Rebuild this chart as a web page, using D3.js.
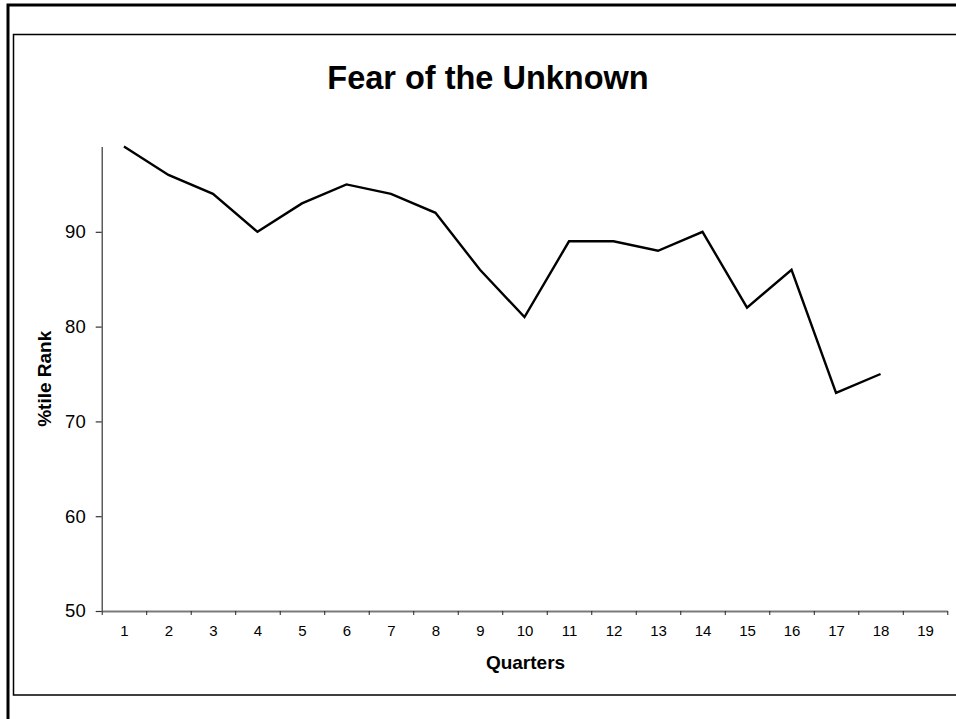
<!DOCTYPE html>
<html>
<head>
<meta charset="utf-8">
<script src="https://cdn.jsdelivr.net/npm/d3@7"></script>
<style>
  html, body { margin: 0; padding: 0; background: #fff; }
  svg { display: block; }
  text { font-family: Arial, "Liberation Sans", sans-serif; fill: #000; }
</style>
</head>
<body>
<svg id="chart" width="956" height="719"></svg>
<script>
// Percentile rank per quarter
const quarters = [1, 2, 3, 4, 5, 6, 7, 8, 9, 10, 11, 12, 13, 14, 15, 16, 17, 18];
const rank = [99, 96, 94, 90, 93, 95, 94, 92, 86, 81, 89, 89, 88, 90, 82, 86, 73, 75];

// Axis categories and ticks
const xCategories = d3.range(1, 20);
const yTicks = [50, 60, 70, 80, 90];

const titleText = "Fear of the Unknown";
const xTitle = "Quarters";
const yTitle = "%tile Rank";

const svg = d3.select("#chart");

// Outer page border (left and top edges)
svg.append("path")
  .attr("d", "M8,719 V5 H956")
  .attr("fill", "none")
  .attr("stroke", "#000")
  .attr("stroke-width", 3);

// Chart area frame
svg.append("path")
  .attr("d", "M956,34.5 H13.5 V695 H956")
  .attr("fill", "none")
  .attr("stroke", "#000")
  .attr("stroke-width", 1.5);

const plotLeft = 101.7, plotRight = 947.3, plotTop = 146.5, plotBottom = 611;

const x = d3.scaleLinear().domain([0.5, 19.5]).range([plotLeft, plotRight]);
const y = d3.scaleLinear().domain([50, 99]).range([plotBottom, plotTop]);

// Y axis
const yAxis = svg.append("g")
  .attr("transform", `translate(${plotLeft},0)`)
  .call(d3.axisLeft(y).tickValues(yTicks).tickSize(6).tickPadding(10).tickSizeOuter(0));
yAxis.select(".domain").attr("stroke", "#333").attr("stroke-width", 1.2);
yAxis.selectAll(".tick line").attr("stroke", "#333").attr("stroke-width", 1.2);
yAxis.selectAll(".tick text")
  .style("font-size", "18.5px")
  .attr("fill", "#000");

// X axis: tick marks between categories
const xTickMarks = svg.append("g")
  .attr("transform", `translate(0,${plotBottom})`)
  .call(d3.axisBottom(x)
    .tickValues(d3.range(0.5, 20, 1))
    .tickSize(4)
    .tickSizeOuter(0)
    .tickFormat(""));
xTickMarks.select(".domain").attr("stroke", "#7a7a7a").attr("stroke-width", 2);
xTickMarks.selectAll(".tick line").attr("stroke", "#222").attr("stroke-width", 1);

// X axis: category labels centred in each slot
const xLabels = svg.append("g")
  .attr("transform", `translate(0,${plotBottom})`)
  .call(d3.axisBottom(x)
    .tickValues(xCategories)
    .tickSize(0)
    .tickPadding(14)
    .tickFormat(d3.format("d")));
xLabels.select(".domain").remove();
xLabels.selectAll(".tick text")
  .style("font-size", "15px")
  .attr("fill", "#000");

// Data line
const line = d3.line()
  .x((d, i) => x(quarters[i]))
  .y(d => y(d));

svg.append("path")
  .datum(rank)
  .attr("d", line)
  .attr("fill", "none")
  .attr("stroke", "#000")
  .attr("stroke-width", 2.4)
  .attr("stroke-linejoin", "miter");

// Titles
svg.append("text")
  .attr("x", 488)
  .attr("y", 89)
  .attr("text-anchor", "middle")
  .style("font-size", "32.5px")
  .style("font-weight", "bold")
  .text(titleText);

svg.append("text")
  .attr("x", (plotLeft + plotRight) / 2 + 1)
  .attr("y", 669)
  .attr("text-anchor", "middle")
  .style("font-size", "19px")
  .style("font-weight", "bold")
  .text(xTitle);

svg.append("text")
  .attr("transform", `translate(51,${(plotTop + plotBottom) / 2}) rotate(-90)`)
  .attr("text-anchor", "middle")
  .style("font-size", "19px")
  .style("font-weight", "bold")
  .text(yTitle);
</script>
</body>
</html>
